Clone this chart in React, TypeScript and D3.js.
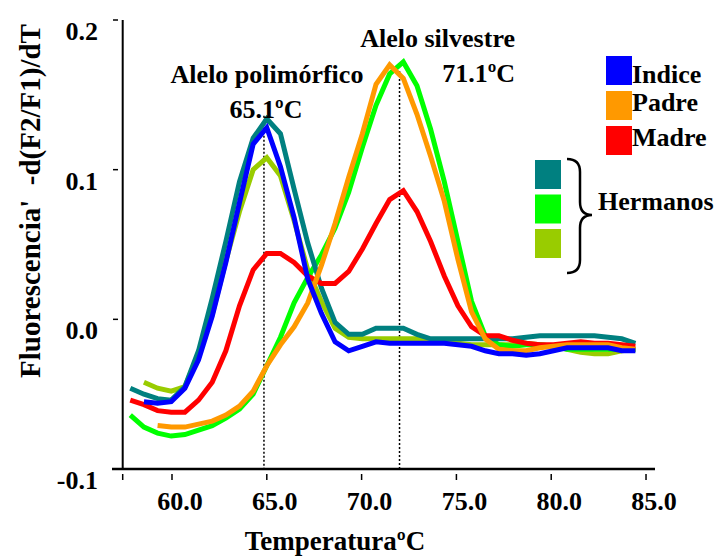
import React from "react";
import * as d3 from "d3";

// temperature grid (ºC) shared by all curves
const temps = [
  57.8, 58.52, 59.24, 59.96, 60.68, 61.4, 62.12, 62.84, 63.56, 64.28, 65.0,
  65.72, 66.44, 67.16, 67.88, 68.6, 69.32, 70.04, 70.76, 71.48, 72.2, 72.92,
  73.64, 74.36, 75.08, 75.8, 76.52, 77.24, 77.96, 78.68, 79.4, 80.12, 80.84,
  81.56, 82.28, 83.0, 83.72, 84.44,
];

const indice = [
  null, -0.055, -0.056, -0.055, -0.046, -0.027, 0.002, 0.038, 0.078, 0.117,
  0.128, 0.102, 0.068, 0.027, 0.004, -0.015, -0.021, -0.018, -0.015, -0.016,
  -0.016, -0.016, -0.016, -0.016, -0.017, -0.018, -0.021, -0.023, -0.023,
  -0.024, -0.023, -0.021, -0.019, -0.019, -0.019, -0.019, -0.021, -0.021,
];
const padre = [
  null, null, -0.071, -0.072, -0.072, -0.07, -0.068, -0.064, -0.058, -0.048,
  -0.031, -0.017, -0.005, 0.011, 0.036, 0.064, 0.095, 0.124, 0.157, 0.17,
  0.161, 0.137, 0.109, 0.079, 0.04, 0.005, -0.013, -0.02, -0.021, -0.021,
  -0.019, -0.018, -0.017, -0.017, -0.017, -0.017, -0.019, -0.02,
];
const madre = [
  -0.054, -0.057, -0.061, -0.062, -0.062, -0.054, -0.042, -0.021, 0.009,
  0.033, 0.044, 0.044, 0.038, 0.029, 0.024, 0.024, 0.032, 0.047, 0.064, 0.08,
  0.086, 0.072, 0.052, 0.029, 0.009, -0.005, -0.011, -0.011, -0.014, -0.016,
  -0.017, -0.017, -0.016, -0.015, -0.016, -0.016, -0.017, -0.018,
];
const hermano1 = [
  -0.046, -0.05, -0.053, -0.054, -0.045, -0.021, 0.014, 0.052, 0.092, 0.121,
  0.134, 0.124, 0.087, 0.051, 0.021, -0.002, -0.01, -0.01, -0.006, -0.006,
  -0.006, -0.01, -0.013, -0.013, -0.013, -0.013, -0.013, -0.013, -0.013,
  -0.012, -0.011, -0.011, -0.011, -0.011, -0.011, -0.012, -0.013, -0.016,
];
const hermano2 = [
  -0.064, -0.072, -0.076, -0.078, -0.077, -0.074, -0.071, -0.066, -0.06,
  -0.05, -0.031, -0.012, 0.011, 0.028, 0.043, 0.061, 0.085, 0.115, 0.143,
  0.164, 0.172, 0.156, 0.127, 0.092, 0.052, 0.012, -0.011, -0.017, -0.018,
  -0.017, -0.017, -0.018, -0.02, -0.02, -0.02, -0.02, -0.02, -0.02,
];
const hermano3 = [
  null, -0.042, -0.046, -0.048, -0.045, -0.023, 0.003, 0.039, 0.072, 0.1,
  0.108, 0.096, 0.066, 0.033, 0.012, -0.006, -0.012, -0.013, -0.013, -0.013,
  -0.013, -0.013, -0.015, -0.015, -0.016, -0.017, -0.017, -0.017, -0.017,
  -0.016, -0.017, -0.018, -0.02, -0.022, -0.023, -0.023, -0.021, -0.02,
];

// drawing order (last on top)
const series = [
  { name: "Hermano 3", color: "#99CC00", values: hermano3 },
  { name: "Hermano 2", color: "#00FF00", values: hermano2 },
  { name: "Hermano 1", color: "#008080", values: hermano1 },
  { name: "Madre", color: "#FF0000", values: madre },
  { name: "Padre", color: "#FF9900", values: padre },
  { name: "Indice", color: "#0000FF", values: indice },
];

const legendNames = ["Indice", "Padre", "Madre"];
const legendColors = ["#0000FF", "#FF9900", "#FF0000"];
const hermanoColors = ["#008080", "#00FF00", "#99CC00"];

const xTicks = [60, 65, 70, 75, 80, 85];
const yTicks = [-0.1, 0.0, 0.1, 0.2];

// melting peaks marked with dotted lines: [temp, top value]
const peakLines = [
  [64.85, 0.136],
  [72.0, 0.166],
];

const font = "'Liberation Serif', 'Times New Roman', serif";

const App = () => {
  const width = 718;
  const height = 557;

  const x = d3.scaleLinear().domain([57.4, 85.5]).range([122.7, 655.5]);
  const y = d3.scaleLinear().domain([-0.1, 0.2]).range([469, 20]);

  const line = d3
    .line<number | null>()
    .defined((d) => d != null)
    .x((d, i) => x(temps[i]))
    .y((d) => y(d as number));

  const x0 = x.range()[0];
  const yBottom = y.range()[0];

  return (
    <svg
      width={width}
      height={height}
      style={{ position: "absolute", left: 0, top: 0, background: "#fff" }}
      fontFamily={font}
      fontWeight="bold"
    >
      {/* Y axis */}
      <line x1={x0} y1={y(0.2)} x2={x0} y2={yBottom} stroke="black" strokeWidth={2} />
      {yTicks.map((t) => (
        <g key={t}>
          {t > -0.1 && (
            <line x1={113} x2={118} y1={y(t)} y2={y(t)} stroke="black" strokeWidth={1.5} />
          )}
          <text x={98} y={y(t) + 20} textAnchor="end" fontSize={26}>
            {t.toFixed(1)}
          </text>
        </g>
      ))}
      {/* X axis */}
      <line x1={112} y1={yBottom} x2={655} y2={yBottom} stroke="black" strokeWidth={2.5} />
      {[x.domain()[0], ...xTicks].map((t) => (
        <line
          key={t}
          x1={x(t)}
          x2={x(t)}
          y1={yBottom + 5}
          y2={yBottom + 11}
          stroke="black"
          strokeWidth={1.5}
        />
      ))}
      {xTicks.map((t) => (
        <text key={t} x={x(t) + 8} y={yBottom + 41} textAnchor="middle" fontSize={26}>
          {t.toFixed(1)}
        </text>
      ))}

      {/* axis titles */}
      <text x={335} y={550} textAnchor="middle" fontSize={27}>
        TemperaturaºC
      </text>
      <text
        transform="translate(40,201) rotate(-90)"
        textAnchor="middle"
        fontSize={29}
        style={{ whiteSpace: "pre" }}
      >
        {"Fluorescencia'  -d(F2/F1)/dT"}
      </text>

      {/* dotted peak lines */}
      {peakLines.map(([t, v]) => (
        <line
          key={t}
          x1={x(t)}
          x2={x(t)}
          y1={y(v)}
          y2={yBottom}
          stroke="black"
          strokeWidth={1.5}
          strokeDasharray="2,2"
        />
      ))}

      {/* curves */}
      {series.map((s) => (
        <path
          key={s.name}
          d={line(s.values) || ""}
          fill="none"
          stroke={s.color}
          strokeWidth={5}
          strokeLinejoin="miter"
        />
      ))}

      {/* annotations */}
      <text x={267} y={83} textAnchor="middle" fontSize={26}>
        Alelo polimórfico
      </text>
      <text x={266} y={118} textAnchor="middle" fontSize={26}>
        65.1ºC
      </text>
      <text x={515} y={47} textAnchor="end" fontSize={26}>
        Alelo silvestre
      </text>
      <text x={515} y={82} textAnchor="end" fontSize={26}>
        71.1ºC
      </text>

      {/* legend */}
      {legendNames.map((name, i) => (
        <g key={name}>
          <rect x={606} y={56 + i * 35} width={26} height={29} fill={legendColors[i]} />
          <text x={632} y={56 + i * 35 + (i === 0 ? 27 : 20)} fontSize={26}>
            {name}
          </text>
        </g>
      ))}
      {hermanoColors.map((c, i) => (
        <rect key={c} x={535} y={160 + i * 34.5} width={26} height={29} fill={c} />
      ))}
      <path
        d="M567,159 Q580,159 580,172 L580,202 Q580,215 592,215 Q580,215 580,228 L580,260 Q580,273 567,273"
        fill="none"
        stroke="black"
        strokeWidth={2.5}
      />
      <text x={598} y={210} fontSize={26}>
        Hermanos
      </text>
    </svg>
  );
};

export default App;
